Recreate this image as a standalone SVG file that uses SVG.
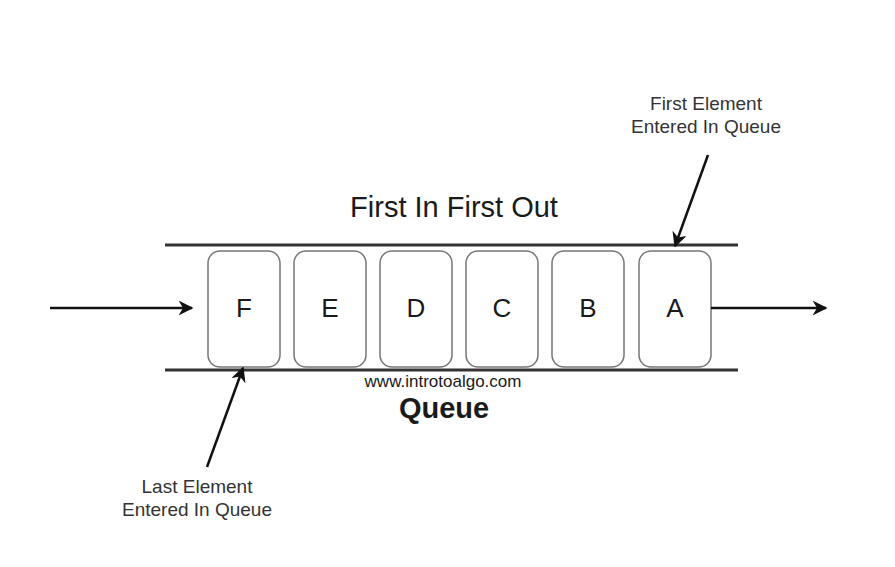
<svg xmlns="http://www.w3.org/2000/svg" width="895" height="567" viewBox="0 0 895 567">
<style>
text{font-family:"Liberation Sans",Arial,sans-serif;fill:#1a1a1a}
.box{fill:#fff;stroke:#777;stroke-width:1.5}
.rail{stroke:#333;stroke-width:3}
.ln{stroke:#111;stroke-width:2.5;fill:none}
.lbl{font-size:26px;text-anchor:middle}
.note{font-size:19px;text-anchor:middle;fill:#333}
</style>
<defs>
<marker id="ah" viewBox="0 0 10 10" refX="9" refY="5" markerWidth="6" markerHeight="6" orient="auto" markerUnits="strokeWidth">
<path d="M0,0 L10,5 L0,10 L3,5 Z" fill="#111"/>
</marker>
</defs>
<rect width="895" height="567" fill="#fff"/>
<g id="rails">
<line class="rail" x1="165" y1="245" x2="738" y2="245"/>
<line class="rail" x1="165" y1="370" x2="738" y2="370"/>
</g>
<g id="node-F"><rect class="box" x="208" y="251" width="72" height="116" rx="12"/><text class="lbl" x="244" y="317">F</text></g>
<g id="node-E"><rect class="box" x="294" y="251" width="72" height="116" rx="12"/><text class="lbl" x="330" y="317">E</text></g>
<g id="node-D"><rect class="box" x="380" y="251" width="72" height="116" rx="12"/><text class="lbl" x="416" y="317">D</text></g>
<g id="node-C"><rect class="box" x="466" y="251" width="72" height="116" rx="12"/><text class="lbl" x="502" y="317">C</text></g>
<g id="node-B"><rect class="box" x="552" y="251" width="72" height="116" rx="12"/><text class="lbl" x="588" y="317">B</text></g>
<g id="node-A"><rect class="box" x="639" y="251" width="72" height="116" rx="12"/><text class="lbl" x="675" y="317">A</text></g>
<g id="connectors">
<line class="ln" x1="50" y1="308" x2="192" y2="308" marker-end="url(#ah)"/>
<line class="ln" x1="711" y1="308" x2="826" y2="308" marker-end="url(#ah)"/>
<line class="ln" x1="708" y1="155" x2="675" y2="246" marker-end="url(#ah)"/>
<line class="ln" x1="207" y1="467" x2="243" y2="368" marker-end="url(#ah)"/>
</g>
<g id="labels">
<text x="454" y="217" font-size="29" text-anchor="middle">First In First Out</text>
<text x="443" y="387" font-size="17" text-anchor="middle" fill="#333">www.introtoalgo.com</text>
<text x="444" y="418" font-size="29" font-weight="bold" text-anchor="middle">Queue</text>
<text class="note" x="706" y="110">First Element</text>
<text class="note" x="706" y="133">Entered In Queue</text>
<text class="note" x="197" y="493">Last Element</text>
<text class="note" x="197" y="516">Entered In Queue</text>
</g>
</svg>
